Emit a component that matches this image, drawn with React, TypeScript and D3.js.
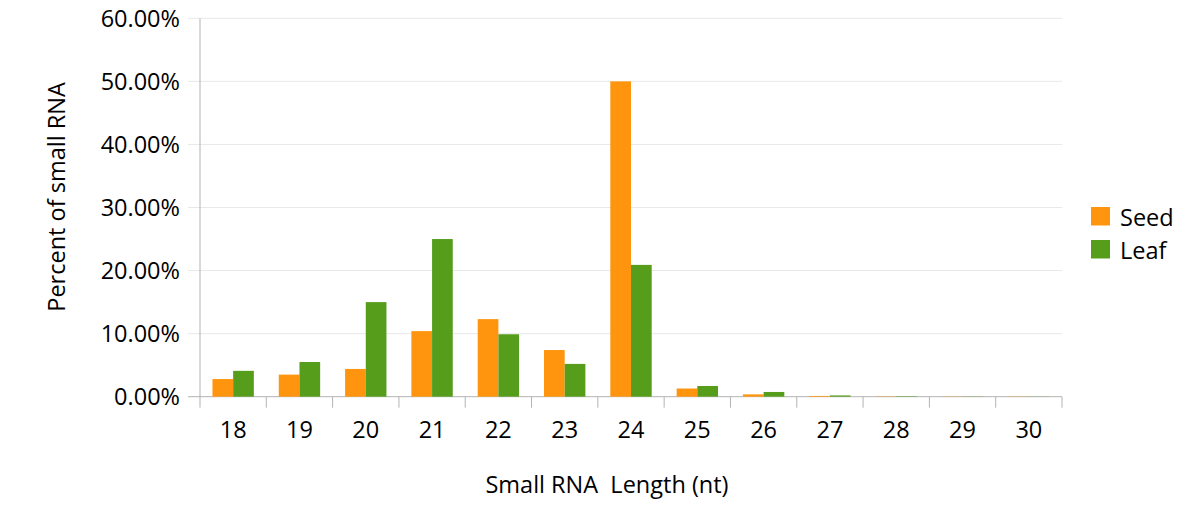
import React from "react";
import * as d3 from "d3";

const categories = ["18", "19", "20", "21", "22", "23", "24", "25", "26", "27", "28", "29", "30"];
const seedValues = [2.8, 3.5, 4.4, 10.4, 12.3, 7.4, 50.0, 1.3, 0.37, 0.12, 0.05, 0.03, 0.03];
const leafValues = [4.1, 5.5, 15.0, 25.0, 9.9, 5.2, 20.9, 1.7, 0.75, 0.2, 0.07, 0.03, 0.02];
const yTicks = [0, 10, 20, 30, 40, 50, 60];
const seriesNames = ["Seed", "Leaf"];
const seriesColors = ["#FF950E", "#579D1C"];

const W = 1200, H = 515;
const left = 200, right = 1062, top = 18.3, bottom = 396.7;
const font = "'Open Sans', 'Noto Sans', sans-serif";
const fs = 23.5;

export default function App() {
  const x = d3.scaleBand<string>().domain(categories).range([left, right]).padding(0);
  const y = d3.scaleLinear().domain([0, 60]).range([bottom, top]);
  const bw = x.bandwidth();
  const barW = bw * 0.312;
  const series = [seedValues, leafValues];
  return (
    <svg width={W} height={H} style={{ display: "block", position: "absolute", left: 0, top: 0 }} fontFamily={font}>
      <rect width={W} height={H} fill="#fff" />
      {yTicks.map((t) => (
        <g key={t}>
          <line x1={188} x2={right} y1={y(t)} y2={y(t)} stroke={t === 0 ? "#b3b3b3" : "#e8e8e8"} strokeWidth={1} />
          <text x={180} y={y(t)} dy="0.35em" textAnchor="end" fontSize={fs} fill="#000">
            {t.toFixed(2)}%
          </text>
        </g>
      ))}
      <line x1={left} x2={left} y1={top} y2={bottom} stroke="#b3b3b3" />
      {categories.map((c, i) => (
        <line key={"tk" + i} x1={x(c)!} x2={x(c)!} y1={bottom} y2={bottom + 11} stroke="#b3b3b3" />
      ))}
      <line x1={right} x2={right} y1={bottom} y2={bottom + 11} stroke="#b3b3b3" />
      {series.map((vals, s) =>
        vals.map((v, i) => {
          const cx = x(categories[i])! + bw / 2;
          const bx = cx - barW + s * barW;
          return (
            <rect key={s + "-" + i} x={bx} y={y(v)} width={barW} height={bottom - y(v)} fill={seriesColors[s]} />
          );
        })
      )}
      {categories.map((c) => (
        <text key={"xl" + c} x={x(c)! + bw / 2} y={438} textAnchor="middle" fontSize={fs} fill="#000">
          {c}
        </text>
      ))}
      <text x={607} y={493} textAnchor="middle" fontSize={fs} fill="#000" style={{ whiteSpace: "pre" }}>
        {"Small RNA  Length (nt)"}
      </text>
      <text transform={`translate(65,197) rotate(-90)`} textAnchor="middle" fontSize={fs} fill="#000">
        Percent of small RNA
      </text>
      {seriesNames.map((n, i) => (
        <g key={n}>
          <rect x={1091} y={207 + i * 33} width={19} height={18.5} fill={seriesColors[i]} />
          <text x={1120} y={226 + i * 33} fontSize={fs} fill="#000">
            {n}
          </text>
        </g>
      ))}
    </svg>
  );
}
